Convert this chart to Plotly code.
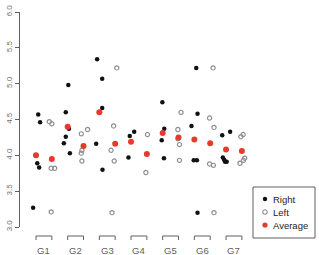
import plotly.graph_objects as go

# ---------------- data ----------------
groups = ["G1", "G2", "G3", "G4", "G5", "G6", "G7"]

right_values = [
    [4.57, 4.46, 3.89, 3.83, 3.27],
    [4.98, 4.60, 4.37, 4.26, 4.17, 4.03],
    [5.34, 5.07, 4.66, 4.16, 3.80],
    [4.33, 4.27, 3.97],
    [4.74, 4.37, 4.21, 3.96],
    [5.22, 4.58, 4.41, 3.93, 3.93, 3.20],
    [4.33, 4.28, 3.97, 3.94, 3.91, 3.91],
]
right_jitter = [
    [0.07, 0.13, 0.04, 0.10, -0.09],
    [0.02, -0.06, 0.04, -0.06, -0.12, 0.07],
    [-0.07, 0.09, 0.09, -0.10, 0.10],
    [0.10, -0.04, -0.08],
    [-0.01, 0.05, -0.03, 0.04],
    [0.06, 0.10, -0.09, -0.02, 0.08, 0.10],
    [0.13, -0.12, -0.10, -0.06, -0.03, 0.02],
]
left_values = [
    [4.47, 4.44, 3.82, 3.82, 3.21],
    [4.36, 4.30, 4.07, 4.03, 3.92],
    [5.22, 4.41, 4.07, 3.92, 3.20],
    [4.29, 3.76],
    [4.60, 4.36, 4.23, 4.15, 3.93],
    [5.22, 4.52, 4.39, 3.88, 3.86, 3.20],
    [4.29, 4.26, 3.96, 3.93, 3.89],
]
left_jitter = [
    [-0.08, 0.00, -0.02, 0.09, -0.02],
    [0.13, -0.07, -0.05, -0.07, -0.05],
    [0.05, -0.05, -0.13, -0.03, -0.10],
    [0.02, -0.03],
    [0.08, -0.02, -0.02, 0.03, 0.03],
    [0.09, -0.02, 0.12, -0.02, 0.10, 0.12],
    [0.04, -0.03, 0.09, 0.05, -0.06],
]
right_avg = [4.00, 4.40, 4.60, 4.19, 4.31, 4.22, 4.08]
left_avg = [3.95, 4.13, 4.16, 4.02, 4.25, 4.17, 4.06]

y_ticks = [3.0, 3.5, 4.0, 4.5, 5.0, 5.5, 6.0]
legend_labels = ["Right", "Left", "Average"]

# ---------------- styles ----------------
W, H = 319, 255
ML, MR, MT, MB = 20, 69, 12, 28
PW, PH = W - ML - MR, H - MT - MB
OFF = 0.25
BLACK = "#111111"
GRAY = "#8f8f8f"
RED = "#e8392c"
AXIS = "#606060"
FONT = "Liberation Sans, Arial, sans-serif"


def px_x(p):
    return (p - ML) / PW


def px_y(p):
    return (H - MB - p) / PH


xr, yr, xl, yl, xa, ya = [], [], [], [], [], []
for i in range(len(groups)):
    pos = i + 1
    for v, j in zip(right_values[i], right_jitter[i]):
        xr.append(pos - OFF + j)
        yr.append(v)
    for v, j in zip(left_values[i], left_jitter[i]):
        xl.append(pos + OFF + j)
        yl.append(v)
    xa += [pos - OFF, pos + OFF]
    ya += [right_avg[i], left_avg[i]]

fig = go.Figure()
fig.add_trace(go.Scatter(x=xr, y=yr, mode="markers", name="Right",
                         marker=dict(color=BLACK, size=4.5, line=dict(width=0))))
fig.add_trace(go.Scatter(x=xl, y=yl, mode="markers", name="Left",
                         marker=dict(symbol="circle-open", color=GRAY, size=4.2,
                                     line=dict(width=1.2, color=GRAY))))
fig.add_trace(go.Scatter(x=xa, y=ya, mode="markers", name="Average",
                         marker=dict(color=RED, size=6, line=dict(width=0))))

shapes = []
annotations = []
yb = px_y(236)
yt = px_y(240)
for i, g in enumerate(groups):
    pos = i + 1
    a, b = pos - OFF, pos + OFF
    shapes.append(dict(type="path", xref="x", yref="paper",
                       path=f"M {a},{yt} L {a},{yb} L {b},{yb} L {b},{yt}",
                       line=dict(color=AXIS, width=1)))
    annotations.append(dict(x=pos, y=px_y(250), xref="x", yref="paper", text=g,
                            showarrow=False, xanchor="center", yanchor="middle",
                            font=dict(size=9.5, color=AXIS, family=FONT)))

# manual legend box
shapes.append(dict(type="rect", xref="paper", yref="paper",
                   x0=px_x(253), x1=px_x(315), y0=px_y(238), y1=px_y(187),
                   line=dict(color=AXIS, width=1), fillcolor="white"))
leg_styles = [(BLACK, BLACK, 0), ("white", GRAY, 1.1), (RED, RED, 0)]
rows = [199, 212, 225]
for lab, (fc, lc, lw), ry in zip(legend_labels, leg_styles, rows):
    r = 2.2 if lab != "Average" else 2.6
    shapes.append(dict(type="circle", xref="paper", yref="paper",
                       xsizemode="pixel", ysizemode="pixel",
                       xanchor=px_x(265), yanchor=px_y(ry),
                       x0=-r, x1=r, y0=-r, y1=r,
                       fillcolor=fc, line=dict(color=lc, width=lw)))
    annotations.append(dict(x=px_x(271), y=px_y(ry), xref="paper", yref="paper",
                            text=lab, showarrow=False, xanchor="left",
                            yanchor="middle",
                            font=dict(size=9.5, color="#222222", family=FONT)))

fig.update_layout(
    width=W, height=H,
    margin=dict(l=ML, r=MR, t=MT, b=MB, pad=0),
    paper_bgcolor="white", plot_bgcolor="white",
    showlegend=False,
    template="none",
    shapes=shapes,
    annotations=annotations,
    xaxis=dict(range=[0.245, 7.507], showline=False, showgrid=False,
               zeroline=False, showticklabels=False, ticks="",
               automargin=False),
    yaxis=dict(range=[3.0, 6.0], showline=True, linecolor=AXIS, linewidth=1,
               showgrid=False, zeroline=False, ticks="outside", ticklen=4,
               tickcolor=AXIS, tickvals=y_ticks,
               ticktext=[f"{t:.1f}" for t in y_ticks],
               tickangle=-90, tickfont=dict(size=8, color="#707070", family=FONT),
               automargin=False),
)

fig.write_html("out.html")
